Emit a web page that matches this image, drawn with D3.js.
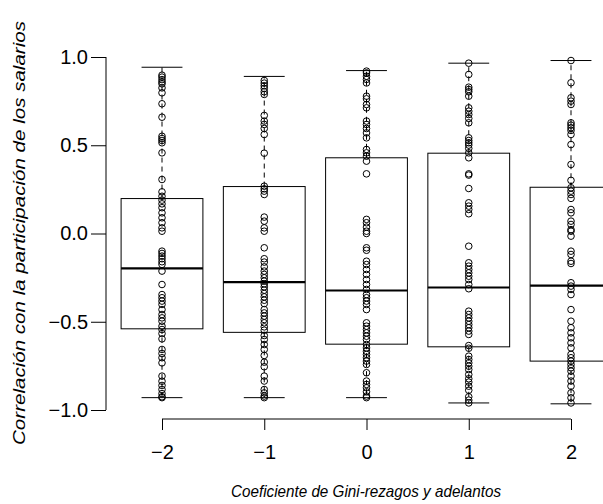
<!DOCTYPE html>
<html><head><meta charset="utf-8">
<script src="https://cdn.jsdelivr.net/npm/d3@7"></script>
<style>body{margin:0;background:#fff}svg{display:block}text{font-family:"Liberation Sans",Arial,Helvetica,sans-serif;fill:#000}</style>
</head><body><svg id="c" width="603" height="504"></svg>
<script>
const categories = ["−2","−1","0","1","2"];
const yTicks = [-1.0,-0.5,0.0,0.5,1.0];
const yTickLabels = ["−1.0","−0.5","0.0","0.5","1.0"];
// box statistics
const boxLow    = [-0.93,-0.93,-0.93,-0.96,-0.965];
const boxQ1     = [-0.54,-0.56,-0.627,-0.642,-0.723];
const boxMedian = [-0.198,-0.276,-0.323,-0.306,-0.295];
const boxQ3     = [0.198,0.266,0.429,0.455,0.262];
const boxHigh   = [0.942,0.89,0.923,0.965,0.98];
// individual correlations per category
const ptsM2 = [0.897,0.886,0.872,0.859,0.848,0.825,0.797,0.735,0.659,0.551,0.538,0.527,0.514,0.457,0.306,0.236,0.211,0.189,0.168,0.146,0.117,0.089,0.061,0.032,
  0.013,-0.100,-0.113,-0.128,-0.143,-0.160,-0.175,-0.213,-0.289,-0.346,-0.364,-0.383,-0.402,-0.431,-0.459,-0.478,-0.497,-0.525,-0.544,-0.567,-0.597,-0.657,-0.680,-0.704,-0.733,-0.808,-0.837,-0.861,-0.884,-0.907,-0.925,-0.93];
const ptsM1 = [0.867,0.852,0.837,0.822,0.803,0.788,0.669,0.637,0.618,0.595,0.561,0.455,0.268,0.253,0.240,0.221,0.093,0.070,0.032,
  0.013,-0.081,-0.143,-0.162,-0.189,-0.213,-0.232,-0.251,-0.270,-0.285,-0.302,-0.321,-0.340,-0.359,-0.378,-0.397,-0.431,-0.450,-0.468,-0.487,-0.506,-0.529,-0.548,-0.578,-0.601,-0.629,-0.657,-0.691,-0.729,-0.755,-0.808,-0.836,-0.884,-0.903,-0.921,-0.93];
const pts0 = [0.92,0.910,0.891,0.873,0.853,0.778,0.763,0.731,0.712,0.637,0.618,0.595,0.570,0.542,0.476,0.457,0.438,0.410,0.338,0.080,0.061,0.036,0.013,
  0.0,-0.081,-0.095,-0.157,-0.176,-0.204,-0.232,-0.261,-0.289,-0.317,-0.346,-0.364,-0.383,-0.402,-0.431,-0.506,-0.525,-0.544,-0.563,-0.582,-0.601,-0.629,-0.648,-0.667,-0.685,-0.704,-0.723,-0.742,-0.789,-0.836,-0.855,-0.874,-0.897,-0.921,-0.93];
const ptsP1 = [0.965,0.901,0.829,0.816,0.803,0.778,0.712,0.693,0.674,0.652,0.627,0.542,0.527,0.514,0.501,0.482,0.457,0.429,0.338,0.331,0.255,0.174,0.155,0.136,0.112,
  -0.072,-0.166,-0.185,-0.204,-0.223,-0.242,-0.261,-0.289,-0.313,-0.440,-0.459,-0.478,-0.497,-0.516,-0.534,-0.553,-0.572,-0.635,-0.650,-0.695,-0.714,-0.733,-0.752,-0.771,-0.799,-0.823,-0.842,-0.865,-0.888,-0.925,-0.944,-0.96];
const ptsP2 = [0.980,0.854,0.769,0.750,0.731,0.627,0.614,0.599,0.584,0.561,0.504,0.391,0.301,0.259,0.240,0.221,0.199,0.136,0.117,0.070,0.051,0.022,
  0.013,-0.015,-0.100,-0.119,-0.157,-0.170,-0.279,-0.298,-0.317,-0.346,-0.431,-0.497,-0.534,-0.563,-0.591,-0.620,-0.648,-0.685,-0.704,-0.723,-0.742,-0.761,-0.780,-0.808,-0.836,-0.865,-0.903,-0.931,-0.96];
const points = [ptsM2, ptsM1, pts0, ptsP1, ptsP2];
const xTitle = "Coeficiente de Gini-rezagos y adelantos";
const yTitle = "Correlación con la participación de los salarios";

const svg = d3.select("#c");
const x = d3.scalePoint().domain(categories).range([162, 571]);
const y = d3.scaleLinear().domain([-1, 1]).range([410, 57]);
const step = x.step();
const boxHalf = step * 0.4, capHalf = step * 0.2;

const g = svg.append("g");
categories.forEach((c, i) => {
  const cx = x(c);
  const gg = g.append("g");
  gg.append("line").attr("x1", cx).attr("x2", cx).attr("y1", y(boxQ3[i])).attr("y2", y(boxHigh[i]))
    .attr("stroke", "#000").attr("stroke-dasharray", "5,4");
  gg.append("line").attr("x1", cx).attr("x2", cx).attr("y1", y(boxQ1[i])).attr("y2", y(boxLow[i]))
    .attr("stroke", "#000").attr("stroke-dasharray", "5,4");
  gg.append("line").attr("x1", cx - capHalf).attr("x2", cx + capHalf).attr("y1", y(boxHigh[i])).attr("y2", y(boxHigh[i])).attr("stroke", "#000");
  gg.append("line").attr("x1", cx - capHalf).attr("x2", cx + capHalf).attr("y1", y(boxLow[i])).attr("y2", y(boxLow[i])).attr("stroke", "#000");
  gg.append("rect").attr("x", cx - boxHalf).attr("width", 2 * boxHalf)
    .attr("y", y(boxQ3[i])).attr("height", y(boxQ1[i]) - y(boxQ3[i]))
    .attr("fill", "none").attr("stroke", "#000");
  gg.append("line").attr("x1", cx - boxHalf).attr("x2", cx + boxHalf).attr("y1", y(boxMedian[i])).attr("y2", y(boxMedian[i]))
    .attr("stroke", "#000").attr("stroke-width", 2.2);
  gg.selectAll("circle").data(points[i]).join("circle")
    .attr("cx", cx).attr("cy", d => y(d)).attr("r", 3.3)
    .attr("fill", "none").attr("stroke", "#000").attr("stroke-width", 1);
});

// y axis
const ya = svg.append("g").attr("transform", "translate(106,0)")
  .call(d3.axisLeft(y).tickValues(yTicks).tickFormat((d, i) => yTickLabels[i]).tickSize(15).tickPadding(3));
ya.select(".domain").attr("d", `M0,${y(1)}V${y(-1)}`);
ya.selectAll("text").attr("font-size", 20).style("font-family", '"Liberation Sans",Arial,sans-serif');

// x axis
const xa = svg.append("g").attr("transform", "translate(0,419)")
  .call(d3.axisBottom(x).tickSize(11).tickPadding(15));
xa.select(".domain").attr("d", `M${x(categories[0])},0H${x(categories[4])}`);
xa.selectAll("text").attr("font-size", 20).style("font-family", '"Liberation Sans",Arial,sans-serif');

svg.append("text").attr("x", 366).attr("y", 497).attr("text-anchor", "middle")
  .attr("font-size", 17).attr("font-style", "italic")
  .attr("textLength", 270).attr("lengthAdjust", "spacingAndGlyphs").text(xTitle);
svg.append("text").attr("transform", "translate(25,233) rotate(-90)").attr("text-anchor", "middle")
  .attr("font-size", 17).attr("font-style", "italic")
  .attr("textLength", 424).attr("lengthAdjust", "spacingAndGlyphs").text(yTitle);
</script></body></html>
